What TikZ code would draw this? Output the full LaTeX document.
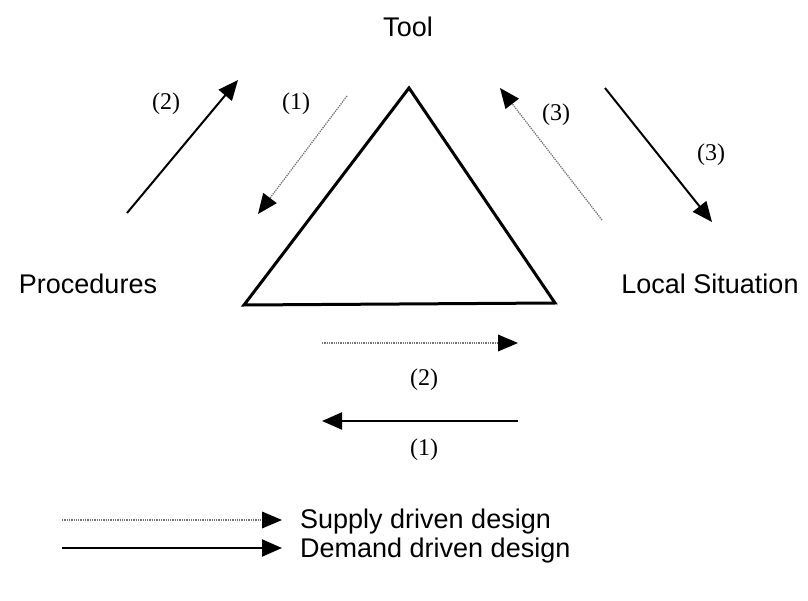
\documentclass[tikz,border=0pt]{standalone}
\usepackage{fontspec}
\setmainfont{Liberation Serif}
\newfontfamily\labelsans{Liberation Sans}
\usetikzlibrary{arrows.meta}
\tikzset{
  demand/.style={line width=2pt, black, -{Triangle[length=20pt,width=17pt]}},
  supply/.style={line width=1.3pt, black!55, densely dotted, -{Triangle[length=20pt,width=17pt,color=black,fill=black,line width=0pt]}},
  corner/.style={font=\labelsans\fontsize{27}{31}\selectfont, inner sep=0pt},
  num/.style={font=\fontsize{24}{28}\selectfont, inner sep=0pt},
}
\begin{document}
\begin{tikzpicture}[x=1pt,y=-1pt]
  \useasboundingbox (0,0) rectangle (808,601);

  % corner labels of the triangle
  \node[corner] (tool) at (408,27) {Tool};
  \node[corner] (proc) at (88,284) {Procedures};
  \node[corner] (local) at (710,284) {Local Situation};

  % the triangle
  \coordinate (apex) at (409,88);
  \coordinate (bl) at (244,305);
  \coordinate (br) at (555,303);
  \draw[line width=3pt, line join=miter] (apex) -- (bl) -- (br) -- cycle;

  % arrows between the corners
  \coordinate (a2s) at (127,213); \coordinate (a2e) at (238,80);
  \draw[demand] (a2s) -- (a2e);
  \node[num] (n2a) at (166,104) {(2)};

  \coordinate (a1s) at (347,96); \coordinate (a1e) at (258,214);
  \draw[supply] (a1s) -- (a1e);
  \node[num] (n1a) at (296,104) {(1)};

  \coordinate (a3s) at (602,220); \coordinate (a3e) at (500,88);
  \draw[supply] (a3s) -- (a3e);
  \node[num] (n3a) at (556,115) {(3)};

  \coordinate (b3s) at (605,88); \coordinate (b3e) at (712,222);
  \draw[demand] (b3s) -- (b3e);
  \node[num] (n3b) at (711,155) {(3)};

  \coordinate (h2s) at (322,343); \coordinate (h2e) at (518,343);
  \draw[supply] (h2s) -- (h2e);
  \node[num] (n2b) at (424,380) {(2)};

  \coordinate (h1s) at (518,421); \coordinate (h1e) at (322,421);
  \draw[demand] (h1s) -- (h1e);
  \node[num] (n1b) at (424,450) {(1)};

  % legend
  \coordinate (ls1) at (62,520); \coordinate (le1) at (282,520);
  \draw[supply] (ls1) -- (le1);
  \node[corner, anchor=west] (sup) at (300,522) {Supply driven design};
  \coordinate (ls2) at (62,548); \coordinate (le2) at (282,548);
  \draw[demand] (ls2) -- (le2);
  \node[corner, anchor=west] (dem) at (300,551) {Demand driven design};
\end{tikzpicture}
\end{document}
